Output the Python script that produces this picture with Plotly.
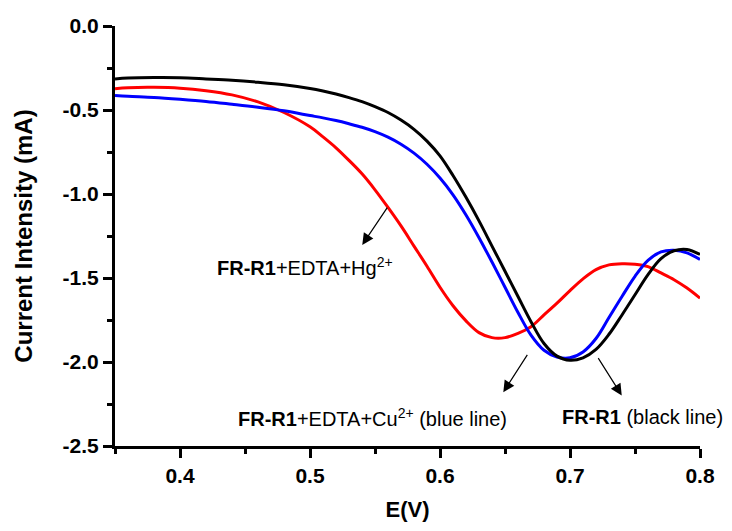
import plotly.graph_objects as go

E = [0.35, 0.36, 0.38, 0.40, 0.42, 0.44, 0.46, 0.48, 0.50, 0.51, 0.52, 0.53, 0.54, 0.55, 0.56,
     0.57, 0.58, 0.59, 0.60, 0.61, 0.62, 0.63, 0.64, 0.65, 0.66, 0.67, 0.68, 0.69, 0.70, 0.71,
     0.72, 0.73, 0.74, 0.75, 0.76, 0.77, 0.78, 0.79, 0.80]

black_fr_r1 = [-0.315, -0.310, -0.307, -0.308, -0.315, -0.323, -0.335, -0.350, -0.372, -0.387,
               -0.405, -0.426, -0.450, -0.480, -0.515, -0.560, -0.615, -0.685, -0.773, -0.89,
               -1.02, -1.16, -1.31, -1.46, -1.61, -1.76, -1.89, -1.965, -1.99, -1.975, -1.925,
               -1.835, -1.72, -1.60, -1.48, -1.385, -1.338, -1.33, -1.36]

blue_cu = [-0.413, -0.418, -0.425, -0.436, -0.449, -0.466, -0.484, -0.505, -0.533, -0.547,
           -0.563, -0.582, -0.603, -0.629, -0.662, -0.704, -0.757, -0.823, -0.905, -1.005,
           -1.125, -1.26, -1.405, -1.555, -1.705, -1.84, -1.93, -1.97, -1.975, -1.94, -1.86,
           -1.735, -1.61, -1.49, -1.395, -1.345, -1.335, -1.35, -1.39]

red_hg = [-0.373, -0.367, -0.365, -0.370, -0.385, -0.410, -0.452, -0.515, -0.600, -0.660,
          -0.725, -0.800, -0.88, -0.975, -1.08, -1.19, -1.31, -1.43, -1.555, -1.665, -1.755,
          -1.825, -1.855, -1.855, -1.83, -1.79, -1.72, -1.65, -1.575, -1.505, -1.45, -1.422,
          -1.415, -1.418, -1.432, -1.47, -1.51, -1.56, -1.62]

x_tickvals = [0.4, 0.5, 0.6, 0.7, 0.8]
x_ticktext = ["0.4", "0.5", "0.6", "0.7", "0.8"]
y_tickvals = [0.0, -0.5, -1.0, -1.5, -2.0, -2.5]
y_ticktext = ["0.0", "-0.5", "-1.0", "-1.5", "-2.0", "-2.5"]

FONT = "Liberation Sans, Arial, sans-serif"

fig = go.Figure()
for ys, col in [(red_hg, "#FF0000"), (blue_cu, "#0000FF"), (black_fr_r1, "#000000")]:
    fig.add_trace(go.Scatter(x=E, y=ys, mode="lines",
                             line=dict(color=col, width=3, shape="spline", smoothing=1.0),
                             showlegend=False))

arrows = [
    (0.5402, -1.303, 0.5602, -1.072),
    (0.6487, -2.18, 0.6679, -1.949),
    (0.7398, -2.199, 0.7210, -1.968),
]
for x, y, ax, ay in arrows:
    fig.add_annotation(x=x, y=y, ax=ax, ay=ay, xref="x", yref="y", axref="x", ayref="y",
                       text="", showarrow=True, arrowhead=2, arrowsize=1.9, arrowwidth=1.2,
                       arrowcolor="black")

labels = [
    (0.4269, -1.43, "<b>FR-R1</b>+EDTA+Hg<sup>2+</sup>"),
    (0.4430, -2.33, "<b>FR-R1</b>+EDTA+Cu<sup>2+</sup> (blue line)"),
    (0.6923, -2.33, "<b>FR-R1</b> (black line)"),
]
for x, y, t in labels:
    fig.add_annotation(x=x, y=y, xref="x", yref="y", text=t, showarrow=False,
                       xanchor="left", yanchor="middle",
                       font=dict(family=FONT, size=20, color="black"))

fig.update_layout(
    width=732, height=531,
    margin=dict(l=115, r=32, t=26, b=77),
    paper_bgcolor="white", plot_bgcolor="white",
    font=dict(family=FONT, color="black"),
)
fig.update_xaxes(
    range=[0.35, 0.8], tickmode="array", tickvals=x_tickvals, ticktext=x_ticktext,
    showline=True, linewidth=3, linecolor="black", mirror=False,
    ticks="outside", ticklen=9, tickwidth=3, tickcolor="black",
    minor=dict(dtick=0.05, tick0=0.35, ticks="outside", ticklen=5, tickwidth=3, tickcolor="black"),
    showgrid=False, zeroline=False,
    tickfont=dict(family=FONT, size=21, weight="bold"),
    title=dict(text="<b>E(V)</b>", font=dict(family=FONT, size=22), standoff=16),
)
fig.update_yaxes(
    range=[-2.5, 0], tickmode="array", tickvals=y_tickvals, ticktext=y_ticktext,
    showline=True, linewidth=3, linecolor="black", mirror=False,
    ticks="outside", ticklen=9, tickwidth=3, tickcolor="black",
    minor=dict(dtick=0.25, tick0=0, ticks="outside", ticklen=5, tickwidth=3, tickcolor="black"),
    showgrid=False, zeroline=False,
    tickfont=dict(family=FONT, size=21, weight="bold"),
    title=dict(text="<b>Current Intensity (mA)</b>", font=dict(family=FONT, size=24), standoff=24),
)

fig.write_html("out.html")
